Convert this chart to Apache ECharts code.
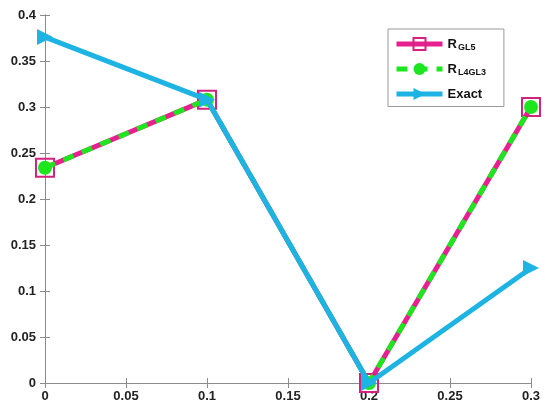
<!DOCTYPE html>
<html>
<head>
<meta charset="utf-8">
<script src="https://cdn.jsdelivr.net/npm/echarts@6/dist/echarts.min.js"></script>
<style>
  html, body { margin: 0; padding: 0; background: #fff; }
  #chart { width: 545px; height: 405px; }
</style>
</head>
<body>
<div id="chart"></div>
<script>
// x positions and series values
const xValues = [0, 0.1, 0.2, 0.3];
const rGL5 = [0.234, 0.308, 0, 0.3];
const rL4GL3 = [0.234, 0.308, 0, 0.3];
const exact = [0.376, 0.308, 0, 0.125];

const seriesNames = ["RGL5", "RL4GL3", "Exact"];

const pairs = (ys) => xValues.map((x, i) => [x, ys[i]]);

const font = "Liberation Sans, Arial, sans-serif";
const axisGrey = "#8c8c8c";

const baseAxis = {
  axisLine: { lineStyle: { color: axisGrey, width: 1 } },
  axisTick: { inside: true, length: 5, lineStyle: { color: axisGrey } },
  splitLine: { show: false },
  axisLabel: { color: "#222", fontFamily: font, fontWeight: "bold", fontSize: 13 },
};

const chart = echarts.init(document.getElementById("chart"), null, { renderer: "canvas" });

chart.setOption({
  animation: false,
  backgroundColor: "#fff",
  grid: { left: 45, right: 14, top: 15, bottom: 22, containLabel: false },
  xAxis: [
    { ...baseAxis, type: "value", min: 0, max: 0.3, interval: 0.05,
      axisLabel: { ...baseAxis.axisLabel, margin: 7, formatter: (v) => String(+v.toFixed(2)) } },
    { ...baseAxis, type: "value", position: "top", min: 0, max: 0.3, interval: 0.05,
      axisLabel: { show: false } },
  ],
  yAxis: [
    { ...baseAxis, type: "value", min: 0, max: 0.4, interval: 0.05,
      axisLabel: { ...baseAxis.axisLabel, margin: 9, formatter: (v) => String(+v.toFixed(2)) } },
    { ...baseAxis, type: "value", position: "right", min: 0, max: 0.4, interval: 0.05,
      axisLabel: { show: false } },
  ],
  legend: {
    orient: "vertical",
    left: 388, top: 29,
    backgroundColor: "#fff",
    borderColor: "#999", borderWidth: 1,
    padding: [8, 18, 6, 6],
    itemGap: 10,
    itemWidth: 46, itemHeight: 15,
    lineStyle: { width: 5 },
    data: seriesNames,
    formatter: (name) => {
      if (name === "RGL5") return "{r|R}{s|GL5}";
      if (name === "RL4GL3") return "{r|R}{s|L4GL3}";
      return "{r|Exact}";
    },
    textStyle: {
      fontFamily: font, fontWeight: "bold", color: "#111",
      rich: {
        r: { fontFamily: font, fontWeight: "bold", fontSize: 13, color: "#111" },
        s: { fontFamily: font, fontWeight: "bold", fontSize: 9, color: "#111", padding: [8, 0, 0, 1] },
      },
    },
  },
  series: [
    {
      name: "RGL5", type: "line", data: pairs(rGL5),
      lineStyle: { color: "#e6218f", width: 5 },
      itemStyle: { color: "rgba(0,0,0,0)", borderColor: "#d2237f", borderWidth: 2 },
      symbol: "rect", symbolSize: 18, z: 2,
    },
    {
      name: "RL4GL3", type: "line", data: pairs(rL4GL3),
      lineStyle: { color: "#1ee61e", width: 5, type: [11, 9] },
      itemStyle: { color: "#1ee61e", borderWidth: 0 },
      symbol: "circle", symbolSize: 14, z: 3,
    },
    {
      name: "Exact", type: "line", data: pairs(exact),
      lineStyle: { color: "#1db3e3", width: 5 },
      itemStyle: { color: "#1db3e3", borderWidth: 0 },
      symbol: "triangle", symbolRotate: -90, symbolSize: 16, z: 4,
    },
  ],
});
</script>
</body>
</html>
